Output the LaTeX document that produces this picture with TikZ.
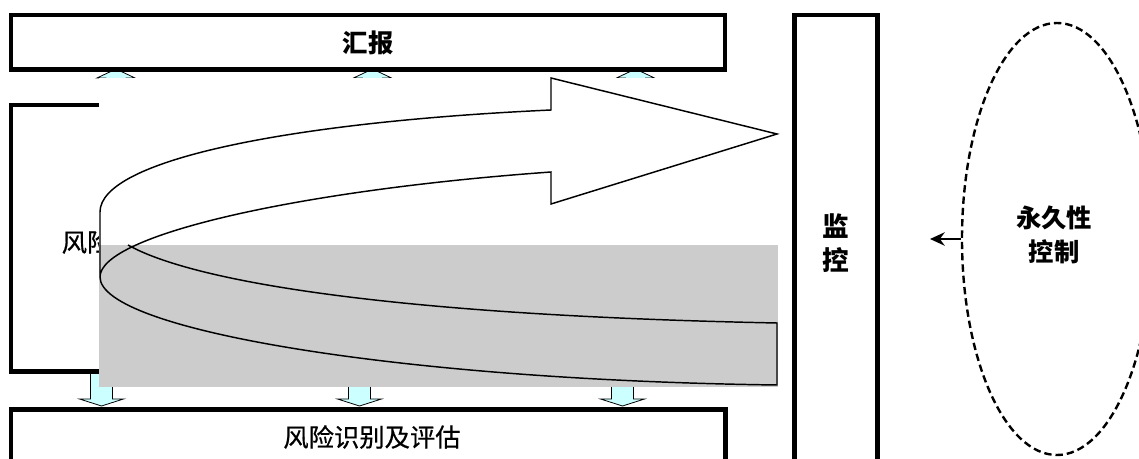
\documentclass[tikz,border=0pt]{standalone}
\usepackage{fontspec}
\newfontfamily\cjk{Noto Sans CJK SC}
\newfontfamily\cjkm[FakeBold=0.6]{Noto Sans CJK SC}
\usetikzlibrary{fit,arrows.meta,shapes.geometric}
\definecolor{lcyan}{HTML}{CCFFFF}
\definecolor{lgray}{HTML}{CCCCCC}
\newcommand\blkdown[1]{\draw[blk] ({#1-11},371.5) -- ({#1-11},399) -- ({#1-22},399) -- (#1,406) -- ({#1+22},399) -- ({#1+11},399) -- ({#1+11},371.5) -- cycle;}
\newcommand\blkup[1]{\draw[blk] ({#1-10},105) -- ({#1-10},78) -- ({#1-19},78) -- (#1,69) -- ({#1+19},78) -- ({#1+10},78) -- ({#1+10},105) -- cycle;}
\begin{document}
\begin{tikzpicture}[x=0.75pt,y=-0.75pt,
 box/.style={draw, line width=3.5pt, inner sep=0pt},
 lbl/.style={font=\cjkm\fontsize{19}{23}\selectfont},
 blk/.style={draw=black, line width=0.6pt, fill=lcyan},
 curve/.style={draw=black, line width=1.1pt, line join=miter},
]
\clip (0,0) rectangle (1139,459);
\fill[white] (0,0) rectangle (1139,459);
% block arrows between boxes
\blkup{116}
\blkup{372.5}
\blkup{635.5}
\blkdown{101.5}
\blkdown{359.5}
\blkdown{622.5}
% boxes
\node[box, fit={(11,15) (725,69.5)}] (report) {};
\node[font=\cjk\bfseries\fontsize{19}{23}\selectfont] (reporttxt) at (368,43) {汇报};
\node[box, fit={(11,105) (725,371.5)}] (mgmt) {};
\node[lbl, anchor=west] (mgmttxt) at (57,242) {风险};
\node[box, fit={(11,409.5) (725.5,490)}] (assess) {};
\node[lbl] (assesstxt) at (372,437) {风险识别及评估};
\node[box, fit={(794.5,15) (877.5,490)}] (monitor) {};
\node[align=center, font=\cjk\bfseries\fontsize{20}{25}\selectfont] (monitortxt) at (836,243) {监\\控};
% arrow picture background
\fill[white] (98.5,78) rectangle (778,245);
\fill[lgray] (98.5,245) rectangle (778,387);
% curved arrow
\draw[curve] (128,245) .. controls (190,280) and (380,315) .. (777,323) -- (777,385)
  .. controls (400,380) and (100,330) .. (100,277);
\draw[curve] (100,277) -- (100,212) .. controls (100,160) and (290,122) .. (551,110)
  -- (551,78) -- (777,134) -- (551,204) -- (551,172)
  .. controls (300,190) and (100,235) .. (100,277);
% permanent control
\node[draw, ellipse, line width=1.8pt, dash pattern=on 5.5pt off 3pt,
  minimum width=142.5pt, minimum height=324pt, inner sep=0pt] (perm) at (1057,239) {};
\node[align=center, font=\cjk\bfseries\fontsize{19}{26}\selectfont] (permtxt) at (1054,235) {永久性\\控制};
\coordinate (ctl) at (930,239);
\draw[line width=2pt, -{Stealth[length=11pt,width=10pt]}] (perm.west) -- (ctl);
\end{tikzpicture}
\end{document}
